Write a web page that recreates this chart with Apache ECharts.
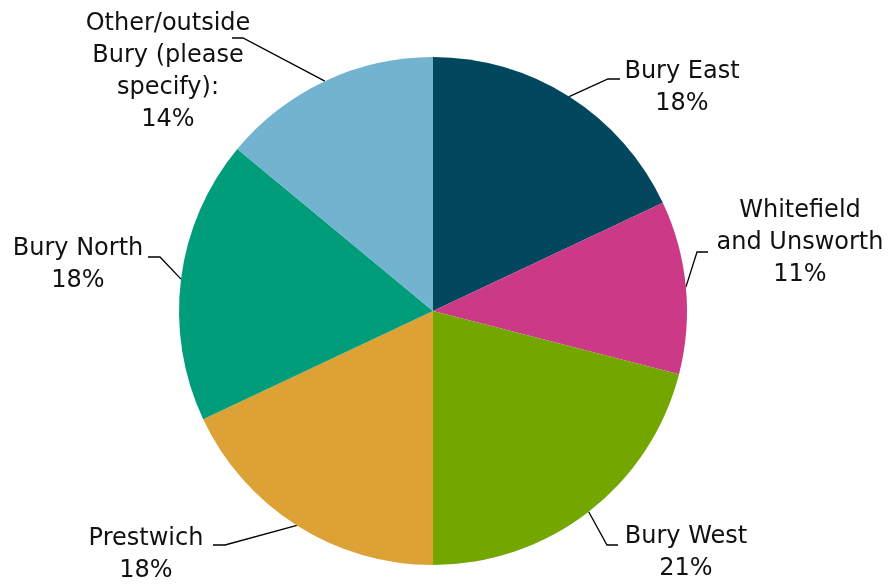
<!DOCTYPE html>
<html>
<head>
<meta charset="utf-8">
<script src="https://cdn.jsdelivr.net/npm/echarts@6/dist/echarts.min.js"></script>
<style>
  html, body { margin: 0; padding: 0; background: #ffffff; }
  #chart { width: 894px; height: 585px; }
</style>
</head>
<body>
<div id="chart"></div>
<script>
// Area of residence, share of responses (clockwise from 12 o'clock)
const areaNames = [
  'Bury East',
  'Whitefield\nand Unsworth',
  'Bury West',
  'Prestwich',
  'Bury North',
  'Other/outside\nBury (please\nspecify):'
];
const areaShares = [18, 11, 21, 18, 18, 14];
const sliceColors = ['#03475f', '#cc3986', '#74a600', '#dca236', '#019d7b', '#72b3cf'];

// Where each label block sits (centre x, middle y)
const labelSpots = [
  [682, 88],
  [800, 243],
  [686, 553],
  [146, 555],
  [78, 265],
  [168, 72]
];
// Label end of each leader line: [end x, end y, elbow x]
const leaderHooks = [
  [620, 79, 608],
  [708, 252, 697],
  [618, 545, 607],
  [213, 545, 225],
  [148, 257, 160],
  [232, 38, 243]
];

const chart = echarts.init(document.getElementById('chart'), null, { renderer: 'canvas' });

chart.setOption({
  animation: false,
  backgroundColor: '#ffffff',
  series: [{
    type: 'pie',
    center: [433, 311],
    radius: 254,
    startAngle: 90,
    clockwise: true,
    data: areaNames.map((n, i) => ({
      name: n,
      value: areaShares[i],
      itemStyle: { color: sliceColors[i] }
    })),
    itemStyle: { borderWidth: 0 },
    emphasis: { disabled: true },
    label: {
      show: true,
      formatter: p => p.name + '\n' + areaShares[p.dataIndex] + '%',
      fontFamily: 'DejaVu Sans',
      fontSize: 24,
      lineHeight: 32,
      color: '#111111',
      align: 'center',
      overflow: 'none',
      bleedMargin: 0
    },
    labelLine: {
      show: true,
      length: 20,
      length2: 11,
      lineStyle: { color: '#000000', width: 1.3 }
    },
    labelLayout: p => {
      const i = p.dataIndex;
      const h = leaderHooks[i];
      const out = {
        x: labelSpots[i][0],
        y: labelSpots[i][1],
        align: 'center',
        verticalAlign: 'middle'
      };
      if (p.labelLinePoints && p.labelLinePoints[0]) {
        // start at the slice's rim (library-computed), bend, then a short tail
        out.labelLinePoints = [
          p.labelLinePoints[0].slice(),
          [h[2], h[1]],
          [h[0], h[1]]
        ];
      }
      return out;
    }
  }]
});
</script>
</body>
</html>
